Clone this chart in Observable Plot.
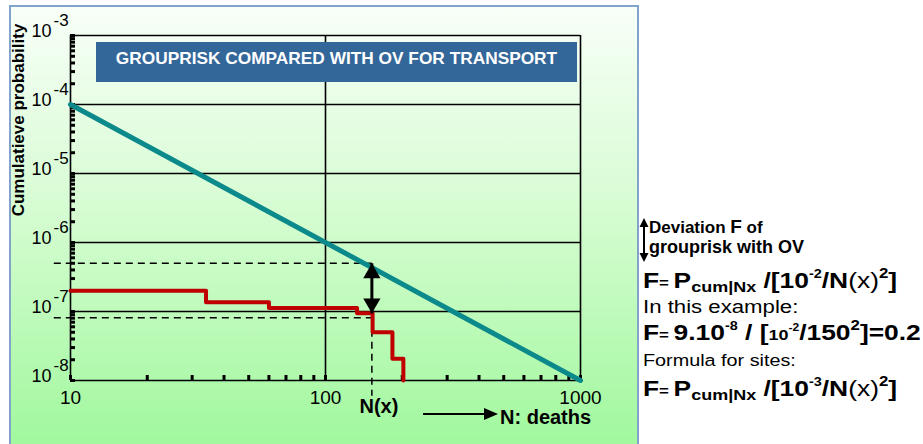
<!DOCTYPE html>
<html>
<head>
<meta charset="utf-8">
<script src="https://cdn.jsdelivr.net/npm/d3@7"></script>
<script src="https://cdn.jsdelivr.net/npm/@observablehq/plot@0.6"></script>
<style>
html,body{margin:0;padding:0;background:#fff;}
#wrap{position:relative;width:923px;height:444px;overflow:hidden;font-family:"Liberation Sans",Arial,sans-serif;}
#panel{position:absolute;left:9px;top:5px;width:626px;height:450px;border:2px solid #82a3cc;background:linear-gradient(to bottom,#f8fff8 0%,#d6fcd2 45%,#9ef89b 100%);}
#chart{position:absolute;left:0;top:0;}
#title{position:absolute;left:96px;top:42px;width:481px;height:40px;background:#336699;color:#fff;font-weight:bold;font-size:17.3px;display:flex;align-items:center;justify-content:center;padding-bottom:7px;box-sizing:border-box;white-space:nowrap;}
#ylab{position:absolute;left:19px;top:120px;transform:translate(-50%,-50%) rotate(-90deg);font-weight:bold;font-size:17px;white-space:nowrap;}
#over{position:absolute;left:0;top:0;}
</style>
</head>
<body>
<div id="wrap">
  <div id="panel"></div>
  <div id="chart"></div>
  <div id="ylab">Cumulatieve probability</div>
  <div id="title">GROUPRISK COMPARED WITH OV FOR TRANSPORT</div>
  <svg id="over" width="923" height="444" font-family="Liberation Sans, Arial, sans-serif">
    <!-- N: deaths arrow -->
    <line x1="423" y1="414" x2="486" y2="414" stroke="#000" stroke-width="2"/>
    <path d="M498,414 L484,408 L484,420 Z" fill="#000"/>
    <text x="500" y="424" font-size="20" font-weight="bold">N: deaths</text>
    <!-- deviation legend -->
    <line x1="644" y1="225" x2="644" y2="255" stroke="#000" stroke-width="2"/>
    <path d="M644,218 L639.5,227 L648.5,227 Z M644,262 L639.5,253 L648.5,253 Z" fill="#000"/>
    <text x="649" y="233" font-size="17" font-weight="bold">Deviation <tspan font-size="19">F</tspan> of</text>
    <text x="649" y="253" font-size="18" font-weight="bold">grouprisk with OV</text>
    <g transform="matrix(1.2,0,0,1,-128.6,0)">
      <text x="643" y="288" font-size="22" font-weight="bold">F<tspan font-size="14">= </tspan>P<tspan font-size="15" dy="4">cum|Nx</tspan><tspan dy="-4"> /[10</tspan><tspan font-size="12" dy="-10">-2</tspan><tspan dy="10">/N</tspan><tspan font-weight="normal">(x)</tspan><tspan font-size="14" dy="-10">2</tspan><tspan dy="10">]</tspan></text>
      <text x="643" y="313" font-size="18.5">In this example:</text>
      <text x="643" y="340" font-size="22" font-weight="bold">F<tspan font-size="14">= </tspan>9.10<tspan font-size="12" dy="-10">-8</tspan><tspan dy="10"> / [</tspan><tspan font-size="15">10</tspan><tspan font-size="10" dy="-9">-2</tspan><tspan dy="9">/150</tspan><tspan font-size="14" dy="-10">2</tspan><tspan dy="10">]=0.2</tspan></text>
      <text x="643" y="366" font-size="16.5">Formula for sites:</text>
      <text x="643" y="396" font-size="22" font-weight="bold">F<tspan font-size="14">= </tspan>P<tspan font-size="15" dy="4">cum|Nx</tspan><tspan dy="-4"> /[10</tspan><tspan font-size="12" dy="-10">-3</tspan><tspan dy="10">/N</tspan><tspan font-weight="normal">(x)</tspan><tspan font-size="14" dy="-10">2</tspan><tspan dy="10">]</tspan></text>
    </g>
  </svg>
</div>
<script>
// ---- data ----
const xTicks = [10, 100, 1000];
const yTicks = [1e-3, 1e-4, 1e-5, 1e-6, 1e-7, 1e-8];
const yTickBase = "10";
const yTickExp = ["-3", "-4", "-5", "-6", "-7", "-8"];

// OV (orientation value) line: 10^-2 / N^2
const ovN = [10, 1000];
const ovP = [1e-4, 1e-8];

// group risk step curve
const riskN = [10, 34, 60, 133, 153, 183, 202];
const riskP = [2.0e-7, 1.36e-7, 1.12e-7, 9.4e-8, 5.0e-8, 2.06e-8, 1.0e-8];

// example annotation
const exN = 152;
const exOV = 5.0e-7;       // upper dashed level (OV at N(x))
const exRisk = 9.4e-8;     // arrow bottom (group risk at N(x))
const exLow = 8.1e-8;      // lower dashed level
const dashStartN = 8.6;
const dashBottomP = 6.0e-9;

// ---- build tables ----
const ov = ovN.map((n, i) => ({n, p: ovP[i]}));
const risk = riskN.map((n, i) => ({n, p: riskP[i]}));
const dashes = [
  {x1: dashStartN, y1: exOV, x2: exN, y2: exOV},
  {x1: dashStartN, y1: exLow, x2: exN, y2: exLow},
  {x1: exN, y1: exLow, x2: exN, y2: dashBottomP}
];

const font = "Liberation Sans, Arial, sans-serif";

const chart = Plot.plot({
  width: 923,
  height: 444,
  marginLeft: 70,
  marginRight: 343,
  marginTop: 35,
  marginBottom: 64,
  style: {background: "transparent", fontFamily: font, overflow: "visible", color: "#000"},
  x: {type: "log", domain: [10, 1000]},
  y: {type: "log", domain: [1e-8, 1e-3]},
  marks: [
    Plot.ruleY(yTicks, {stroke: "#000", strokeWidth: 1.6}),
    Plot.ruleX(xTicks, {stroke: "#000", strokeWidth: 1.6}),
    Plot.axisY({ticks: 20, tickSize: -5, strokeWidth: 3, tickFormat: () => "", label: null}),
    Plot.axisX({ticks: 20, tickSize: -5, strokeWidth: 3, tickFormat: () => "", label: null}),
    Plot.axisY({ticks: yTicks, tickSize: 0, tickPadding: 19, fontSize: 18, dy: -4,
      tickFormat: () => yTickBase, label: null}),
    Plot.text(yTicks, {y: d => d, frameAnchor: "left", dx: -17, dy: -15, textAnchor: "start",
      fontSize: 17, text: (d, i) => yTickExp[i]}),
    Plot.axisX({ticks: xTicks, tickSize: 0, tickPadding: 10, fontSize: 19,
      tickFormat: d => String(d), label: null}),
    Plot.link(dashes, {x1: "x1", y1: "y1", x2: "x2", y2: "y2", stroke: "#000", strokeWidth: 1.5, strokeDasharray: "7,5"}),
    Plot.line(risk, {x: "n", y: "p", curve: "step-after", stroke: "#c00000", strokeWidth: 4}),
    Plot.line(ov, {x: "n", y: "p", stroke: "#0b898b", strokeWidth: 5}),
    Plot.link([{n: exN, a: exOV, b: exRisk}], {x1: "n", x2: "n", y1: "a", y2: "b", stroke: "#000", strokeWidth: 3}),
    Plot.dot([{n: exN, p: exOV}], {x: "n", y: "p", symbol: "triangle", r: 6.4, fill: "#000", stroke: null, dy: 10}),
    Plot.dot([{n: exN, p: exRisk}], {x: "n", y: "p", symbol: "triangle", r: 6.4, fill: "#000", stroke: null, rotate: 180, dy: -10}),
    Plot.text([exN], {x: d => d, frameAnchor: "bottom", dy: 32, dx: 7, text: () => "N(x)", fontSize: 20, fontWeight: "bold"})
  ]
});
document.getElementById("chart").appendChild(chart);
</script>
</body>
</html>
